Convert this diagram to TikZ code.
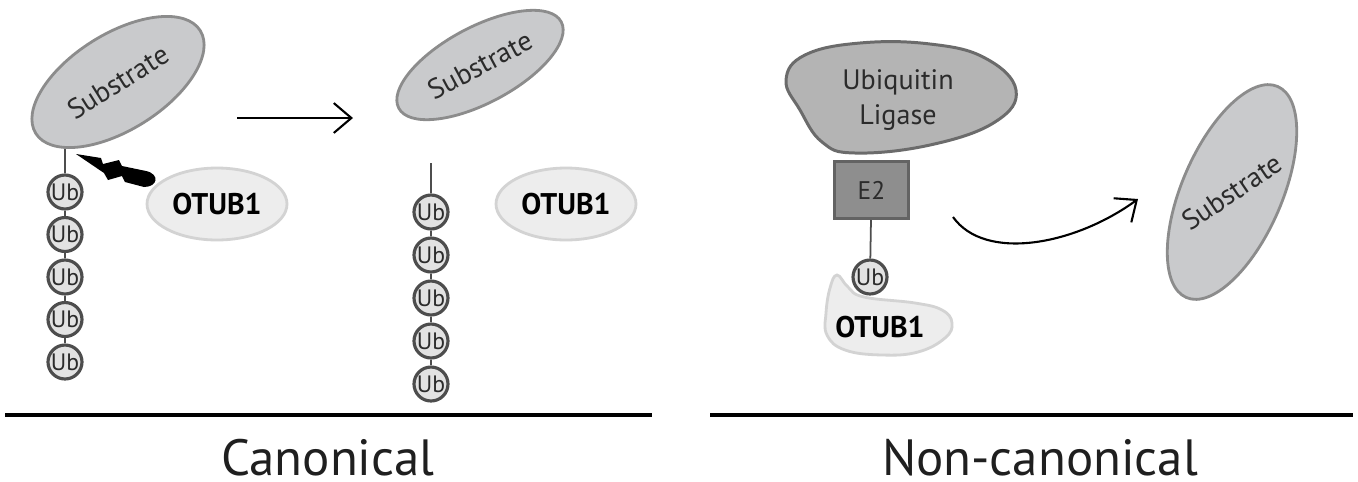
\documentclass[tikz,border=0pt]{standalone}
\usepackage{fontspec}
\setmainfont{PT Sans}
\usepackage{xcolor}
\usetikzlibrary{shapes, arrows.meta, positioning, calc}

\definecolor{subfill}{HTML}{C9CACC}
\definecolor{subdraw}{HTML}{8C8C8C}
\definecolor{ubfill}{HTML}{E2E2E2}
\definecolor{ubdraw}{HTML}{4D4D4D}
\definecolor{otubfill}{HTML}{EDEDED}
\definecolor{otubdraw}{HTML}{D3D3D3}
\definecolor{ligfill}{HTML}{B4B4B4}
\definecolor{ligdraw}{HTML}{6B6B6B}
\definecolor{etwofill}{HTML}{8E8E8E}
\definecolor{etwodraw}{HTML}{636363}
\definecolor{labeltext}{HTML}{2B2B2B}

\tikzset{
  substrate/.style={ellipse, draw=subdraw, fill=subfill, line width=1.6pt, inner sep=0pt,
    text=labeltext, font=\fontsize{16}{19}\selectfont},
  ub/.style={circle, draw=ubdraw, fill=ubfill, line width=1.8pt, minimum size=0.68cm,
    inner sep=0pt, text=labeltext, font=\fontsize{13.5}{15}\selectfont},
  otub/.style={ellipse, draw=otubdraw, fill=otubfill, line width=1.6pt, minimum width=2.8cm,
    minimum height=1.44cm, inner sep=0pt, font=\bfseries\fontsize{17}{20}\selectfont},
  link/.style={draw=ubdraw, line width=1pt},
  react/.style={line width=1.2pt, -{Straight Barb[length=10pt, width=17pt]}},
  rule line/.style={line width=2.3pt},
  panel title/.style={anchor=base, inner sep=0pt, text depth=0pt, text=black!88,
    font=\fontsize{29}{34}\selectfont}
}

\begin{document}
\begin{tikzpicture}[x=0.02cm, y=-0.02cm]
  \useasboundingbox (0,0) rectangle (1358,481);

  % Canonical: chain still on the substrate
  \foreach \i in {0,...,4}
    \node[ub] (lub\i) at (65,{192+42.5*\i}) {Ub};
  \foreach \i/\j in {0/1,1/2,2/3,3/4}
    \draw[link] (lub\i) -- (lub\j);
  \coordinate (lstem) at (65,135);
  \draw[link] (lstem) -- (lub0);
  \node[substrate, minimum width=3.88cm, minimum height=1.92cm, rotate=32] (lsub) at (118,82) {Substrate};

  \fill (76,154) -- (101,158) -- (103,164) -- (119,160) -- (122,166) -- (146,171)
    .. controls (160,174) and (158,187) .. (144,187)
    -- (125,182) -- (122,176) -- (108,180) -- (104,173) -- cycle;% cleavage bolt
  \node[otub] (lotub) at (217,204) {OTUB1};

  \coordinate (larrs) at (237,118);
  \coordinate (larre) at (353,118);
  \draw[react] (larrs) -- (larre);

  % Canonical: chain released
  \node[substrate, minimum width=3.68cm, minimum height=1.52cm, rotate=28] (msub) at (480,65) {Substrate};
  \foreach \i in {0,...,4}
    \node[ub] (mub\i) at (431,{212+43*\i}) {Ub};
  \foreach \i/\j in {0/1,1/2,2/3,3/4}
    \draw[link] (mub\i) -- (mub\j);
  \coordinate (mstem) at (431,163);
  \draw[link] (mstem) -- (mub0);
  \node[otub] (motub) at (566,204) {OTUB1};

  % Non-canonical
  \filldraw[draw=ligdraw, fill=ligfill, line width=1.7pt] plot[smooth cycle, tension=0.7] coordinates
    {(786,80) (805,55) (860,43) (930,44) (985,58) (1016,90) (995,122) (930,145) (855,153) (822,142) (800,110)};
  \node[align=center, text=labeltext, font=\fontsize{16}{20}\selectfont] (ligtxt) at (898,100) {Ubiquitin\\Ligase};
  \node[draw=etwodraw, fill=etwofill, line width=1.7pt, minimum width=1.48cm, minimum height=1.14cm,
    text=labeltext, font=\fontsize{14.5}{17}\selectfont] (etwo) at (871.5,190) {E2};

  \filldraw[draw=otubdraw, fill=otubfill, line width=1.6pt] plot[smooth cycle, tension=0.7] coordinates
    {(837,275) (848,287) (864,297) (915,303) (942,310) (952,323) (945,338) (918,352) (882,355) (845,350) (827,335) (826,313) (830,288)};
  \node[font=\bfseries\fontsize{17}{20}\selectfont] (rotub) at (880,327) {OTUB1};
  \node[ub] (rub) at (870,277) {Ub};
  \draw[link] (etwo) -- (rub);

  \coordinate (cstart) at (953,217);
  \coordinate (cend) at (1138,199);
  \draw[react] (cstart) .. controls (985,262) and (1075,245) .. (cend);

  \node[substrate, minimum width=4.6cm, minimum height=2cm, rotate=66.6] (rsub) at (1232,192) {};
  \node[text=labeltext, font=\fontsize{16}{19}\selectfont, rotate=34] (rsubtxt) at (rsub) {Substrate};

  % baselines and titles
  \coordinate (lrule0) at (5,415);
  \coordinate (lrule1) at (652,415);
  \coordinate (rrule0) at (710,415);
  \coordinate (rrule1) at (1353,415);
  \draw[rule line] (lrule0) -- (lrule1);
  \draw[rule line] (rrule0) -- (rrule1);
  \node[panel title] (canon) at (328,475) {Canonical};
  \node[panel title] (noncanon) at (1040,475) {Non-canonical};
\end{tikzpicture}
\end{document}
